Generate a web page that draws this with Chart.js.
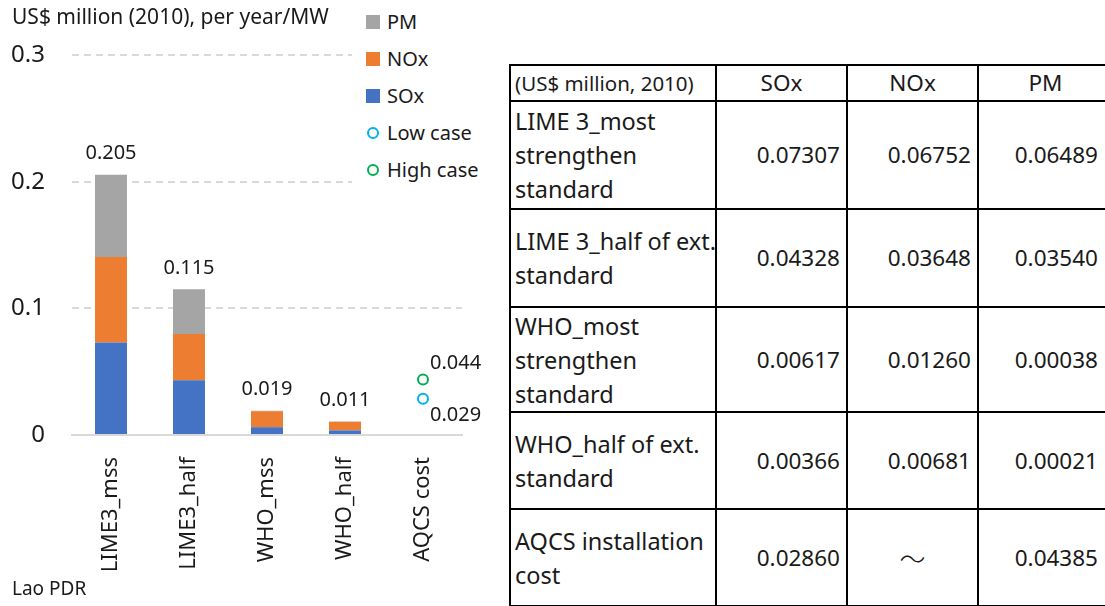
<!DOCTYPE html>
<html>
<head>
<meta charset="utf-8">
<script src="https://cdn.jsdelivr.net/npm/chart.js@4/dist/chart.umd.min.js"></script>
<style>
  body { margin: 0; background: #fff; font-family: "Noto Sans", sans-serif; color: #1a1a1a; }
  #wrap { position: relative; width: 1105px; height: 606px; overflow: hidden; }
  #chartBox { position: absolute; left: 0; top: 0; width: 500px; height: 606px; }
  #title { position: absolute; left: 12px; top: 2px; font-size: 21px; white-space: nowrap; }
  #region { position: absolute; left: 12px; top: 575px; font-size: 19px; }
  #legend { position: absolute; left: 352px; top: 2px; width: 148px; height: 190px; background: #fff; }
  .item { position: absolute; left: 14px; height: 30px; line-height: 30px; font-size: 20px; white-space: nowrap; }
  .sw { position: absolute; left: 0; top: 8px; width: 14px; height: 14px; }
  .ring { position: absolute; left: 1px; top: 9px; width: 8px; height: 8px; border-radius: 50%; border: 2px solid; }
  .item span.t { position: absolute; left: 21px; }
  #tbl { position: absolute; left: 509px; top: 64px; width: 603px; border-collapse: collapse; table-layout: fixed; font-size: 22.5px; line-height: 34px; }
  #tbl td { border: 2px solid #000; padding: 0; vertical-align: middle; }
  #tbl td.lab { text-align: left; padding-left: 4px; font-size: 23.5px; white-space: nowrap; }
  #tbl td.num { text-align: right; padding-right: 6px; }
  #tbl td.mid { text-align: center; }
  #tbl td.wave { font-family: "Noto Sans CJK JP", sans-serif; font-size: 26px; font-weight: 300; }
</style>
</head>
<body>
<div id="wrap">
  <div id="chartBox"><canvas id="costChart"></canvas></div>
  <div id="title">US$ million (2010), per year/MW</div>
  <div id="region">Lao PDR</div>
  <div id="legend"></div>
  <table id="tbl"></table>
</div>
<script>
const categories = ["LIME3_mss", "LIME3_half", "WHO_mss", "WHO_half", "AQCS cost"];
const soxValues = [0.07307, 0.04328, 0.00617, 0.00366, null];
const noxValues = [0.06752, 0.03648, 0.01260, 0.00681, null];
const pmValues = [0.06489, 0.03540, 0.00038, 0.00021, null];
const lowCase = [null, null, null, null, 0.02860];
const highCase = [null, null, null, null, 0.04385];
const yTickLabels = ["0", "0.1", "0.2", "0.3"];

const tableHeader = ["(US$ million, 2010)", "SOx", "NOx", "PM"];
const tableRows = [
    ["LIME 3_most", "strengthen", "standard"],
    ["LIME 3_half of ext.", "standard"],
    ["WHO_most", "strengthen", "standard"],
    ["WHO_half of ext.", "standard"],
    ["AQCS installation", "cost"],
];

const colors = {
    sox: "#4472C4",
    nox: "#ED7D31",
    pm: "#A5A5A5",
    low: "#00B0F0",
    high: "#00B050",
};
const txt = "#1a1a1a";

// table on the right (last column runs past the page edge like the original)
const colW = [206, 131, 131, 135];
const rowH = [35, 108, 98, 105, 97, 97];
let html = "<colgroup>" + colW.map(w => `<col style="width:${w}px">`).join("") + "</colgroup>";
html += `<tr style="height:${rowH[0]}px"><td class="lab" style="font-size:20.5px">${tableHeader[0]}</td>` +
    tableHeader.slice(1).map(h => `<td class="mid">${h}</td>`).join("") + "</tr>";
tableRows.forEach((lines, i) => {
    html += `<tr style="height:${rowH[i + 1]}px"><td class="lab">${lines.join("<br>")}</td>`;
    if (i < 4) {
        html += `<td class="num">${soxValues[i].toFixed(5)}</td><td class="num">${noxValues[i].toFixed(5)}</td><td class="num" style="padding-right:14px">${pmValues[i].toFixed(5)}</td>`;
    } else {
        html += `<td class="num">${lowCase[4].toFixed(5)}</td><td class="mid wave">～</td><td class="num" style="padding-right:14px">${highCase[4].toFixed(5)}</td>`;
    }
    html += "</tr>";
});
document.getElementById("tbl").innerHTML = html;

// legend overlay
const legendItems = [
    { label: "PM", color: colors.pm, kind: "box" },
    { label: "NOx", color: colors.nox, kind: "box" },
    { label: "SOx", color: colors.sox, kind: "box" },
    { label: "Low case", color: colors.low, kind: "ring" },
    { label: "High case", color: colors.high, kind: "ring" },
];
document.getElementById("legend").innerHTML = legendItems.map((it, i) => {
    const mark = it.kind === "box"
        ? `<div class="sw" style="background:${it.color}"></div>`
        : `<div class="ring" style="border-color:${it.color}"></div>`;
    return `<div class="item" style="top:${5 + i * 37}px">${mark}<span class="t">${it.label}</span></div>`;
}).join("");

const valueLabels = {
    id: "valueLabels",
    afterDatasetsDraw(chart) {
        const c = chart.ctx;
        const x = chart.scales.x, y = chart.scales.y;
        c.save();
        c.fillStyle = txt;
        c.font = "20px 'Noto Sans'";
        c.textBaseline = "middle";
        c.textAlign = "center";
        categories.forEach((cat, i) => {
            if (soxValues[i] == null) return;
            const total = soxValues[i] + noxValues[i] + pmValues[i];
            c.fillText(total.toFixed(3), x.getPixelForValue(i), y.getPixelForValue(total) - 21);
        });
        c.textAlign = "left";
        c.fillText(highCase[4].toFixed(3), x.getPixelForValue(4) + 7, y.getPixelForValue(highCase[4]) - 16);
        c.fillText(lowCase[4].toFixed(3), x.getPixelForValue(4) + 7, y.getPixelForValue(lowCase[4]) + 17);
        c.restore();
    },
};

let ctx = document.getElementById("costChart").getContext("2d");
let costChart = new Chart(ctx, {
    type: "bar",
    data: {
        labels: categories,
        datasets: [
            { label: "SOx", data: soxValues, backgroundColor: colors.sox, stack: "s" },
            { label: "NOx", data: noxValues, backgroundColor: colors.nox, stack: "s" },
            { label: "PM", data: pmValues, backgroundColor: colors.pm, stack: "s" },
            {
                type: "line", label: "Low case", data: lowCase, stack: "low", showLine: false,
                pointRadius: 5, pointBorderWidth: 2, borderColor: colors.low, backgroundColor: "#fff",
            },
            {
                type: "line", label: "High case", data: highCase, stack: "high", showLine: false,
                pointRadius: 5, pointBorderWidth: 2, borderColor: colors.high, backgroundColor: "#fff",
            },
        ],
    },
    options: {
        responsive: true,
        maintainAspectRatio: false,
        animation: false,
        barPercentage: 0.41,
        categoryPercentage: 1,
        layout: { padding: { top: 55, right: 38, left: 0, bottom: 0 } },
        plugins: { legend: { display: false }, tooltip: { enabled: false } },
        scales: {
            x: {
                stacked: true,
                grid: { display: false, drawTicks: false },
                border: { display: true, color: "#d9d9d9", width: 2 },
                ticks: { color: txt, font: { family: "Noto Sans", size: 22 }, minRotation: 90, maxRotation: 90, padding: 22 },
                afterFit(s) { s.height = 171; },
            },
            y: {
                stacked: true,
                min: 0,
                max: 0.3,
                grid: { color: "#d9d9d9", lineWidth: 2, drawTicks: false },
                border: { display: false, dash: [7, 5] },
                ticks: {
                    stepSize: 0.1,
                    color: txt,
                    font: { family: "Noto Sans", size: 24 },
                    padding: 27,
                    callback: (v, i) => yTickLabels[i],
                },
                afterFit(s) { s.width = 72; },
            },
        },
    },
    plugins: [valueLabels],
});
</script>
</body>
</html>
